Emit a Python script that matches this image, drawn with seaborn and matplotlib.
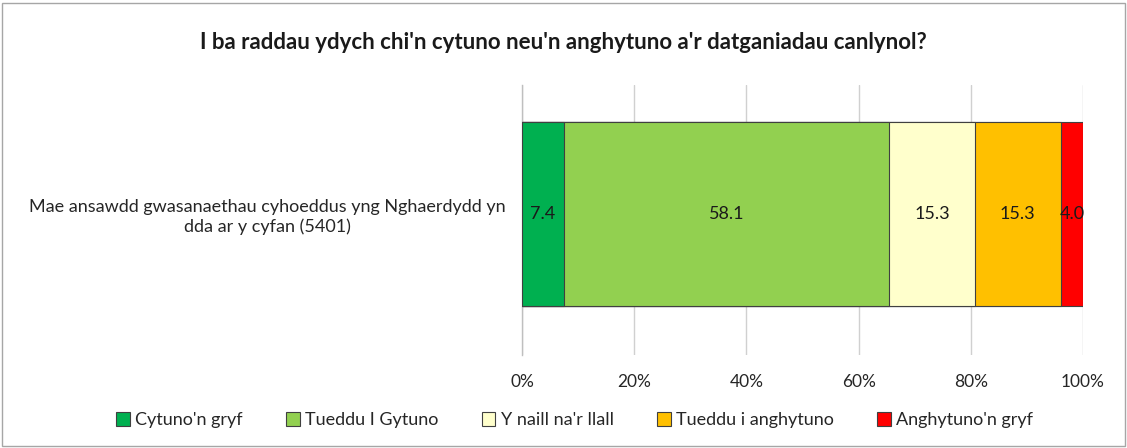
import matplotlib
matplotlib.use('Agg')
import matplotlib.pyplot as plt
import matplotlib.patches as mpatches
import numpy as np
import pandas as pd
import seaborn as sns

# data
statement = ["Mae ansawdd gwasanaethau cyhoeddus yng Nghaerdydd yn\ndda ar y cyfan (5401)"]
categories = ["Cytuno'n gryf", "Tueddu I Gytuno", "Y naill na'r llall",
              "Tueddu i anghytuno", "Anghytuno'n gryf"]
values = [7.4, 58.1, 15.3, 15.3, 4.0]
colors = ["#00B050", "#92D050", "#FFFFCC", "#FFC000", "#FF0000"]
xticks = [0, 20, 40, 60, 80, 100]

sns.set_style("white")
plt.rcParams['font.family'] = ['Lato', 'DejaVu Sans']

# 100% stacked: normalise, then cumulative totals
shares = np.array(values) / sum(values) * 100
cum = np.cumsum(shares)
df = pd.DataFrame({'label': statement * len(categories), 'cat': categories,
                   'cum': cum, 'val': values})

fig = plt.figure(figsize=(11.27, 4.48), dpi=100)
ax = fig.add_axes([0.4632, 0.2076, 0.4978, 0.6027])

# draw the cumulative bars from the longest down so each segment shows
for i in range(len(categories) - 1, -1, -1):
    sns.barplot(data=df.iloc[[i]], x='cum', y='label', orient='h', color=colors[i],
                edgecolor='#404040', linewidth=0.8, width=0.68, ax=ax, zorder=3,
                saturation=1)

for c, v, s in zip(cum, values, shares):
    ax.text(c - s / 2, 0, f"{v:.1f}", ha='center', va='center', fontsize=13,
            color='#1a1a1a', zorder=4)

ax.set_xlim(0, 100)
ax.set_ylim(0.522, -0.478)
ax.set_xticks(xticks)
ax.set_xticklabels([f"{t}%" for t in xticks], fontsize=12.5, color='#262626')
ax.tick_params(axis='x', length=0, pad=14)
ax.xaxis.grid(True, color='#D0D0D0', linewidth=1, zorder=0)
ax.set_axisbelow(True)
ax.set_xlabel('')
ax.set_ylabel('')
ax.set_yticks([0])
ax.set_yticklabels(statement, fontsize=13, color='#262626', multialignment='center')
ax.tick_params(axis='y', length=0, pad=12)
ax.set_yticks([0.522], minor=True)
ax.tick_params(axis='y', which='minor', length=4, color='#BFBFBF', width=1)
for side in ['top', 'right', 'bottom']:
    ax.spines[side].set_visible(False)
ax.spines['left'].set_color('#BFBFBF')
ax.spines['left'].set_linewidth(1)

fig.text(0.5, 0.905, "I ba raddau ydych chi'n cytuno neu'n anghytuno a'r datganiadau canlynol?",
         ha='center', va='center', fontsize=16, fontweight='bold', color='#1a1a1a')

handles = [mpatches.Patch(facecolor=col, edgecolor='#404040', linewidth=0.8, label=cat)
           for cat, col in zip(categories, colors)]
fig.legend(handles=handles, loc='center', bbox_to_anchor=(0.51, 0.062), ncol=5,
           frameon=False, fontsize=13, handlelength=0.75, handleheight=0.75,
           handletextpad=0.3, columnspacing=2.4)

# grey border round the chart area
fig.patches.append(mpatches.Rectangle((0.002, 0.004), 0.996, 0.99, transform=fig.transFigure,
                                      fill=False, edgecolor='#A6A6A6', linewidth=1))

fig.savefig('out.png', dpi=100)
plt.close(fig)
